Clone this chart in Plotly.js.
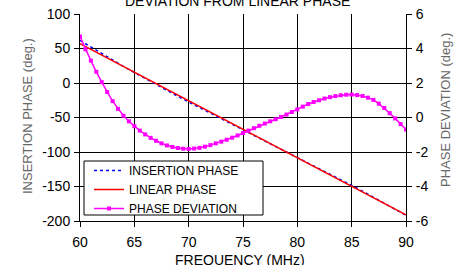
<!DOCTYPE html>
<html>
<head>
<meta charset="utf-8">
<script src="https://cdn.plot.ly/plotly-3.0.1.min.js"></script>
<style>html,body{margin:0;padding:0;background:#fff;}#chart{width:465px;height:265px;}</style>
</head>
<body>
<div id="chart"></div>
<script>
// Frequency grid for the deviation curve (MHz)
const freqDev = [60,60.5,61,61.5,62,62.5,63,63.5,64,64.5,65,65.5,66,66.5,67,67.5,68,68.5,69,69.5,70,70.5,71,71.5,72,72.5,73,73.5,74,74.5,75,75.5,76,76.5,77,77.5,78,78.5,79,79.5,80,80.5,81,81.5,82,82.5,83,83.5,84,84.5,85,85.5,86,86.5,87,87.5,88,88.5,89,89.5,90];
const phaseDeviation = [4.7,3.95,3.3,2.65,2.05,1.48,0.95,0.5,0.1,-0.22,-0.5,-0.76,-0.98,-1.18,-1.35,-1.5,-1.62,-1.71,-1.77,-1.81,-1.82,-1.8,-1.76,-1.69,-1.6,-1.5,-1.4,-1.29,-1.17,-1.04,-0.9,-0.76,-0.62,-0.48,-0.35,-0.22,-0.1,0.03,0.17,0.32,0.47,0.63,0.78,0.9,1.0,1.1,1.18,1.24,1.29,1.32,1.33,1.3,1.25,1.15,1.02,0.8,0.55,0.25,-0.05,-0.38,-0.7];
// Insertion phase (deg.) at 1 MHz steps
const freqIns = [60,61,62,63,64,65,66,67,68,69,70,71,72,73,74,75,76,77,78,79,80,81,82,83,84,85,86,87,88,89,90];
const insertionPhase = [61.7,52.0,42.5,33.1,24.0,15.2,6.4,-2.2,-10.8,-19.2,-27.5,-35.7,-43.8,-51.9,-60.0,-68.0,-75.9,-83.9,-92.0,-100.0,-107.9,-115.9,-123.9,-132.0,-140.2,-148.4,-156.8,-165.3,-174.0,-182.9,-191.8];
// Linear phase (deg.) end points
const freqLin = [60,90];
const linearPhase = [57.0,-191.1];
const xTicks = [60,65,70,75,80,85,90];
const yTicks = [100,50,0,-50,-100,-150,-200];
const y2Ticks = [6,4,2,0,-2,-4,-6];

const FONT = 'Liberation Sans, Arial, sans-serif';
const PW = 326, PH = 207, L = 80, T = 14;
const px = v => (v - L) / PW;          // pixel x -> paper x
const py = v => (T + PH - v) / PH;     // pixel y -> paper y

const traces = [
  {x: freqIns, y: insertionPhase, name: 'INSERTION PHASE', mode: 'lines',
   line: {color: '#0000ff', width: 1.5, dash: '3px,3px'}},
  {x: freqLin, y: linearPhase, name: 'LINEAR PHASE', mode: 'lines',
   line: {color: '#ff0000', width: 1.5}},
  {x: freqDev, y: phaseDeviation, name: 'PHASE DEVIATION', mode: 'lines+markers', yaxis: 'y2',
   line: {color: '#ff00ff', width: 1.5}, marker: {symbol: 'square', size: 4, color: '#ff00ff'}}
];

const layout = {
  width: 465, height: 265,
  margin: {l: 80, r: 59, t: 14, b: 44, pad: 0},
  paper_bgcolor: '#fff', plot_bgcolor: '#fff',
  font: {family: FONT, size: 14, color: '#000'},
  showlegend: true,
  legend: {x: px(89), y: py(156), xanchor: 'left', yanchor: 'top', bgcolor: 'rgba(0,0,0,0)',
           borderwidth: 0, font: {family: FONT, size: 12, color: '#000'}, tracegroupgap: 0},
  xaxis: {range: [60, 90], tickvals: xTicks, ticktext: xTicks.map(String),
          showgrid: true, gridcolor: '#000', gridwidth: 1, zeroline: false,
          showline: true, linecolor: '#000', linewidth: 1, mirror: false,
          ticks: 'outside', ticklen: 5, tickcolor: '#000', ticklabelstandoff: 3,
          tickfont: {family: FONT, size: 14, color: '#000'}},
  yaxis: {range: [-200, 100], tickvals: yTicks, ticktext: yTicks.map(String),
          showgrid: true, gridcolor: '#000', gridwidth: 1, zeroline: false,
          showline: true, linecolor: '#000', linewidth: 1,
          ticks: 'outside', ticklen: 5, tickcolor: '#000', ticklabelstandoff: 1,
          tickfont: {family: FONT, size: 14, color: '#000'}},
  yaxis2: {range: [-6, 6], tickvals: y2Ticks, ticktext: y2Ticks.map(String),
           overlaying: 'y', side: 'right', showgrid: false, zeroline: false,
           showline: true, linecolor: '#000', linewidth: 1,
           ticks: 'outside', ticklen: 5, tickcolor: '#000', ticklabelstandoff: 1,
           tickfont: {family: FONT, size: 14, color: '#000'}},
  shapes: [
    {type: 'rect', xref: 'paper', yref: 'paper', layer: 'above',
     x0: px(84), x1: px(263), y0: py(215), y1: py(161),
     line: {color: '#000', width: 1}, fillcolor: '#fff'}
  ],
  annotations: [
    {text: 'DEVIATION FROM LINEAR PHASE', xref: 'paper', yref: 'paper',
     x: px(237), y: py(1), xanchor: 'center', yanchor: 'middle', showarrow: false,
     font: {family: FONT, size: 14, color: '#000'}},
    {text: 'FREQUENCY (MHz)', xref: 'paper', yref: 'paper',
     x: px(240), y: py(260), xanchor: 'center', yanchor: 'middle', showarrow: false,
     font: {family: FONT, size: 14, color: '#000'}},
    {text: 'INSERTION PHASE (deg.)', xref: 'paper', yref: 'paper', textangle: -90,
     x: px(27), y: py(116), xanchor: 'center', yanchor: 'middle', showarrow: false,
     font: {family: FONT, size: 13, color: '#666'}},
    {text: 'PHASE DEVIATION (deg.)', xref: 'paper', yref: 'paper', textangle: -90,
     x: px(446), y: py(110), xanchor: 'center', yanchor: 'middle', showarrow: false,
     font: {family: FONT, size: 13, color: '#666'}}
  ]
};

Plotly.newPlot('chart', traces, layout, {staticPlot: true, displayModeBar: false});
</script>
</body>
</html>
